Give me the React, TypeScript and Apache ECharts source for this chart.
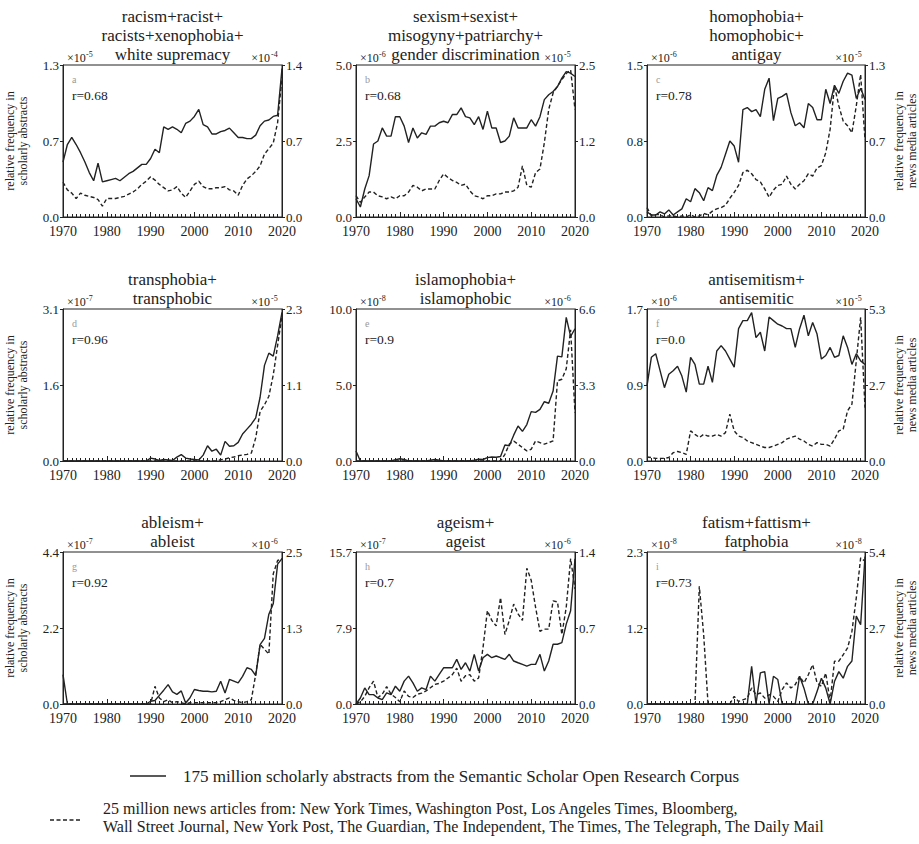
import React, { useEffect, useRef } from "react";
import * as echarts from "echarts";

const YEARS = [
  1970, 1971, 1972, 1973, 1974, 1975, 1976, 1977, 1978, 1979,
  1980, 1981, 1982, 1983, 1984, 1985, 1986, 1987, 1988, 1989,
  1990, 1991, 1992, 1993, 1994, 1995, 1996, 1997, 1998, 1999,
  2000, 2001, 2002, 2003, 2004, 2005, 2006, 2007, 2008, 2009,
  2010, 2011, 2012, 2013, 2014, 2015, 2016, 2017, 2018, 2019,
  2020,
];

const TITLES = [
  "racism+racist+\nracists+xenophobia+\nwhite supremacy",
  "sexism+sexist+\nmisogyny+patriarchy+\ngender discrimination",
  "homophobia+\nhomophobic+\nantigay",
  "transphobia+\ntransphobic",
  "islamophobia+\nislamophobic",
  "antisemitism+\nantisemitic",
  "ableism+\nableist",
  "ageism+\nageist",
  "fatism+fattism+\nfatphobia",
];
const LETTERS = ["a", "b", "c", "d", "e", "f", "g", "h", "i"];
const R_VALUES = ["r=0.68", "r=0.68", "r=0.78", "r=0.96", "r=0.9", "r=0.0", "r=0.92", "r=0.7", "r=0.73"];
const LEFT_MAX = [1.3, 5.0, 1.5, 3.1, 10.0, 1.7, 4.4, 15.7, 2.3];
const RIGHT_MAX = [1.4, 2.5, 1.3, 2.3, 6.6, 5.3, 2.5, 1.4, 5.4];
const LEFT_TICK_LABELS = [
  ["0.0", "0.7", "1.3"], ["0.0", "2.5", "5.0"], ["0.0", "0.8", "1.5"],
  ["0.0", "1.6", "3.1"], ["0.0", "5.0", "10.0"], ["0.0", "0.9", "1.7"],
  ["0.0", "2.2", "4.4"], ["0.0", "7.9", "15.7"], ["0.0", "1.2", "2.3"],
];
const RIGHT_TICK_LABELS = [
  ["0.0", "0.7", "1.4"], ["0.0", "1.2", "2.5"], ["0.0", "0.7", "1.3"],
  ["0.0", "1.1", "2.3"], ["0.0", "3.3", "6.6"], ["0.0", "2.7", "5.3"],
  ["0.0", "1.3", "2.5"], ["0.0", "0.7", "1.4"], ["0.0", "2.7", "5.4"],
];
const LEFT_EXP = ["-5", "-6", "-6", "-7", "-8", "-6", "-7", "-7", "-8"];
const RIGHT_EXP = ["-4", "-5", "-5", "-5", "-6", "-5", "-6", "-6", "-8"];

const scholarA = [
  0.47, 0.62, 0.68, 0.62, 0.55, 0.47, 0.38, 0.31, 0.46, 0.30,
  0.31, 0.32, 0.33, 0.31, 0.34, 0.37, 0.39, 0.42, 0.45, 0.45,
  0.50, 0.58, 0.55, 0.77, 0.75, 0.77, 0.75, 0.72, 0.80, 0.82,
  0.86, 0.92, 0.79, 0.77, 0.71, 0.71, 0.73, 0.74, 0.76, 0.72,
  0.68, 0.68, 0.67, 0.67, 0.70, 0.78, 0.82, 0.83, 0.86, 0.87,
  1.27,
];
const newsA = [
  0.32, 0.25, 0.22, 0.17, 0.22, 0.20, 0.19, 0.18, 0.16, 0.10,
  0.17, 0.17, 0.17, 0.18, 0.19, 0.21, 0.23, 0.26, 0.30, 0.33,
  0.37, 0.34, 0.30, 0.27, 0.24, 0.25, 0.28, 0.22, 0.18, 0.24,
  0.30, 0.33, 0.28, 0.26, 0.26, 0.27, 0.27, 0.28, 0.25, 0.24,
  0.20, 0.29, 0.35, 0.38, 0.42, 0.47, 0.58, 0.63, 0.68, 0.87,
  1.29,
];
const scholarB = [
  0.60, 0.33, 0.92, 1.36, 2.40, 2.50, 2.93, 2.66, 2.66, 3.30,
  3.30, 2.99, 2.45, 2.93, 2.60, 2.77, 2.72, 2.99, 2.99, 3.10,
  3.15, 3.10, 3.37, 3.37, 3.59, 3.30, 3.26, 3.04, 3.30, 2.88,
  3.48, 2.93, 2.93, 2.45, 2.50, 2.66, 3.26, 2.93, 2.93, 2.93,
  3.20, 2.99, 3.30, 3.86, 4.02, 4.13, 4.29, 4.57, 4.78, 4.73,
  4.62,
];
const newsB = [
  0.35, 0.24, 0.33, 0.41, 0.41, 0.35, 0.33, 0.30, 0.33, 0.30,
  0.35, 0.35, 0.41, 0.52, 0.49, 0.43, 0.46, 0.46, 0.46, 0.60,
  0.71, 0.65, 0.60, 0.57, 0.52, 0.54, 0.43, 0.35, 0.33, 0.30,
  0.35, 0.35, 0.38, 0.38, 0.41, 0.41, 0.43, 0.49, 0.84, 0.52,
  0.49, 0.73, 0.79, 1.22, 1.77, 2.04, 2.15, 2.26, 2.36, 2.42,
  1.77,
];
const scholarC = [
  0.05, 0.02, 0.02, 0.05, 0.03, 0.07, 0.02, 0.05, 0.08, 0.18,
  0.15, 0.28, 0.24, 0.16, 0.29, 0.26, 0.41, 0.49, 0.62, 0.75,
  0.70, 0.54, 1.06, 1.08, 1.04, 1.06, 0.99, 1.26, 1.37, 0.95,
  1.17, 1.19, 1.22, 1.03, 0.90, 0.93, 0.88, 1.12, 1.08, 0.96,
  0.96, 1.26, 1.12, 1.30, 1.22, 1.34, 1.42, 1.40, 1.17, 1.27,
  1.16,
];
const newsC = [
  0.08, 0.01, 0.02, 0.02, 0.00, 0.01, 0.01, 0.00, 0.01, 0.00,
  0.02, 0.00, 0.01, 0.03, 0.02, 0.05, 0.07, 0.08, 0.10, 0.16,
  0.21, 0.27, 0.38, 0.40, 0.37, 0.32, 0.30, 0.24, 0.17, 0.23,
  0.27, 0.28, 0.35, 0.28, 0.24, 0.28, 0.31, 0.37, 0.35, 0.42,
  0.44, 0.55, 0.75, 1.12, 0.95, 0.82, 0.78, 0.72, 0.95, 1.22,
  0.66,
];
const scholarD = [
  0.00, 0.00, 0.00, 0.00, 0.00, 0.00, 0.00, 0.00, 0.00, 0.00,
  0.00, 0.00, 0.00, 0.00, 0.00, 0.00, 0.00, 0.00, 0.00, 0.00,
  0.06, 0.04, 0.01, 0.03, 0.02, 0.01, 0.08, 0.13, 0.06, 0.04,
  0.03, 0.02, 0.12, 0.31, 0.20, 0.24, 0.12, 0.40, 0.30, 0.31,
  0.38, 0.55, 0.65, 0.75, 0.88, 1.30, 1.95, 2.20, 2.14, 2.55,
  3.03,
];
const newsD = [
  0.00, 0.00, 0.00, 0.00, 0.00, 0.00, 0.00, 0.00, 0.00, 0.00,
  0.00, 0.00, 0.00, 0.00, 0.00, 0.00, 0.00, 0.00, 0.00, 0.00,
  0.00, 0.00, 0.00, 0.00, 0.00, 0.00, 0.00, 0.00, 0.00, 0.00,
  0.00, 0.00, 0.00, 0.00, 0.00, 0.00, 0.02, 0.03, 0.05, 0.06,
  0.08, 0.09, 0.10, 0.12, 0.35, 0.75, 0.85, 0.98, 1.30, 1.75,
  2.20,
];
const scholarE = [
  0.66, 0.00, 0.00, 0.00, 0.00, 0.00, 0.00, 0.00, 0.00, 0.08,
  0.15, 0.10, 0.00, 0.00, 0.00, 0.00, 0.00, 0.05, 0.10, 0.05,
  0.00, 0.00, 0.00, 0.00, 0.00, 0.00, 0.00, 0.05, 0.12, 0.10,
  0.22, 0.26, 0.25, 0.30, 1.05, 1.00, 1.70, 2.30, 1.95, 2.40,
  3.25, 3.20, 3.40, 3.90, 3.80, 4.60, 6.90, 6.85, 9.45, 8.20,
  8.70,
];
const newsE = [
  0.00, 0.00, 0.00, 0.00, 0.00, 0.00, 0.00, 0.00, 0.00, 0.00,
  0.00, 0.00, 0.00, 0.00, 0.00, 0.00, 0.00, 0.00, 0.00, 0.00,
  0.00, 0.00, 0.00, 0.00, 0.00, 0.00, 0.00, 0.00, 0.00, 0.00,
  0.00, 0.00, 0.00, 0.00, 0.29, 0.73, 0.87, 0.73, 0.58, 0.44,
  0.51, 0.87, 0.80, 0.73, 0.80, 0.87, 3.48, 3.55, 4.00, 5.70,
  2.10,
];
const scholarF = [
  0.84, 1.16, 1.20, 1.01, 0.82, 0.97, 1.01, 1.06, 0.95, 0.77,
  1.16, 1.08, 0.86, 0.86, 1.06, 0.88, 1.23, 1.29, 1.23, 1.14,
  1.05, 1.48, 1.57, 1.57, 1.66, 1.38, 1.44, 1.23, 1.61, 1.57,
  1.53, 1.51, 1.48, 1.48, 1.27, 1.48, 1.63, 1.40, 1.55, 1.42,
  1.14, 1.18, 1.27, 1.16, 1.18, 1.40, 1.27, 1.08, 1.20, 1.12,
  1.08,
];
const newsF = [
  0.14, 0.12, 0.09, 0.09, 0.09, 0.12, 0.29, 0.33, 0.29, 0.23,
  1.05, 0.93, 0.82, 0.93, 0.87, 0.87, 0.93, 0.87, 0.99, 1.63,
  1.05, 0.87, 0.82, 0.70, 0.64, 0.58, 0.52, 0.47, 0.47, 0.52,
  0.58, 0.64, 0.76, 0.82, 0.87, 0.76, 0.70, 0.58, 0.52, 0.64,
  0.58, 0.58, 0.52, 0.76, 1.05, 1.11, 1.75, 1.98, 3.49, 5.01,
  1.86,
];
const scholarG = [
  0.85, 0.00, 0.00, 0.00, 0.00, 0.00, 0.00, 0.00, 0.00, 0.00,
  0.00, 0.00, 0.00, 0.00, 0.00, 0.00, 0.00, 0.00, 0.00, 0.00,
  0.08, 0.10, 0.25, 0.40, 0.56, 0.35, 0.28, 0.38, 0.03, 0.18,
  0.42, 0.39, 0.37, 0.37, 0.35, 0.37, 0.66, 0.32, 0.71, 0.66,
  0.61, 0.80, 1.05, 1.00, 0.82, 1.72, 1.90, 2.60, 2.90, 4.05,
  4.21,
];
const newsG = [
  0.00, 0.00, 0.00, 0.00, 0.00, 0.00, 0.00, 0.00, 0.00, 0.00,
  0.00, 0.00, 0.00, 0.00, 0.00, 0.00, 0.00, 0.00, 0.00, 0.00,
  0.00, 0.29, 0.10, 0.04, 0.07, 0.02, 0.04, 0.02, 0.00, 0.02,
  0.02, 0.02, 0.02, 0.02, 0.02, 0.02, 0.04, 0.07, 0.10, 0.06,
  0.04, 0.02, 0.04, 0.07, 0.49, 0.98, 0.90, 0.82, 2.14, 2.36,
  2.39,
];
const scholarH = [
  0.00, 0.62, 1.66, 0.97, 0.97, 0.62, 0.45, 1.14, 0.97, 1.84,
  1.32, 2.36, 2.88, 2.18, 1.32, 1.66, 1.49, 2.88, 2.36, 3.05,
  3.74, 3.74, 3.74, 4.61, 3.57, 4.26, 3.40, 5.13, 3.40, 4.78,
  5.13, 4.78, 4.96, 4.78, 4.61, 5.13, 4.44, 4.26, 4.09, 3.92,
  4.09, 4.09, 5.13, 3.40, 4.44, 6.17, 6.17, 6.34, 8.25, 9.63,
  15.0,
];
const newsH = [
  0.00, 0.02, 0.07, 0.15, 0.21, 0.06, 0.09, 0.16, 0.09, 0.06,
  0.02, 0.12, 0.07, 0.06, 0.09, 0.10, 0.12, 0.15, 0.18, 0.19,
  0.21, 0.24, 0.27, 0.33, 0.21, 0.26, 0.27, 0.21, 0.24, 0.52,
  0.86, 0.77, 0.72, 0.98, 0.64, 0.77, 0.92, 0.83, 0.77, 1.25,
  1.14, 0.89, 0.67, 0.69, 0.69, 0.95, 0.94, 0.64, 0.89, 1.34,
  1.06,
];
const scholarI = [
  0.00, 0.00, 0.00, 0.00, 0.00, 0.00, 0.00, 0.00, 0.00, 0.00,
  0.00, 0.00, 0.00, 0.00, 0.00, 0.00, 0.00, 0.00, 0.00, 0.00,
  0.00, 0.00, 0.00, 0.00, 0.57, 0.00, 0.47, 0.49, 0.00, 0.42,
  0.37, 0.00, 0.00, 0.00, 0.00, 0.42, 0.24, 0.00, 0.00, 0.19,
  0.39, 0.24, 0.00, 0.34, 0.49, 0.39, 0.57, 0.65, 1.33, 1.20,
  2.23,
];
const newsI = [
  0.00, 0.00, 0.00, 0.00, 0.00, 0.00, 0.00, 0.00, 0.00, 0.00,
  0.00, 0.00, 4.18, 2.46, 0.00, 0.00, 0.00, 0.00, 0.00, 0.00,
  0.27, 0.09, 0.15, 0.21, 0.57, 0.33, 0.39, 0.21, 0.33, 0.27,
  0.09, 0.51, 0.75, 0.57, 0.69, 0.98, 0.75, 1.04, 1.40, 0.75,
  0.63, 1.10, 0.09, 1.52, 1.52, 1.75, 1.99, 2.58, 3.77, 5.19,
  5.07,
];

const SCHOLAR = [scholarA, scholarB, scholarC, scholarD, scholarE, scholarF, scholarG, scholarH, scholarI];
const NEWS = [newsA, newsB, newsC, newsD, newsE, newsF, newsG, newsH, newsI];

const LEGEND_SCHOLAR = "175 million scholarly abstracts from the Semantic Scholar Open Research Corpus";
const LEGEND_NEWS_1 = "25 million news articles from: New York Times, Washington Post, Los Angeles Times, Bloomberg,";
const LEGEND_NEWS_2 = "Wall Street Journal, New York Post, The Guardian, The Independent, The Times, The Telegraph, The Daily Mail";
const Y_NAME_LEFT = "relative frequency in\nscholarly abstracts";
const Y_NAME_RIGHT = "relative frequency in\nnews media articles";

const FONT = "'Liberation Serif', 'Times New Roman', serif";
const INK = "#222";
const COL_LEFT = [63, 356, 647];
const ROW_TOP = [65, 309, 552];
const GW = 219;
const GH = 152;

export default function App() {
  const ref = useRef<HTMLDivElement>(null);

  useEffect(() => {
    if (!ref.current) return;
    const chart = echarts.init(ref.current, null, { renderer: "svg" });

    const grid: any[] = [];
    const xAxis: any[] = [];
    const yAxis: any[] = [];
    const series: any[] = [];
    const graphic: any[] = [];

    for (let i = 0; i < 9; i++) {
      const col = i % 3;
      const row = Math.floor(i / 3);
      const gl = COL_LEFT[col];
      const gt = ROW_TOP[row];
      const gr = gl + GW;
      grid.push({
        left: gl, top: gt, width: GW, height: GH,
        show: true, borderColor: INK, borderWidth: 1, backgroundColor: "transparent",
      });
      xAxis.push({
        type: "value", gridIndex: i, min: 1970, max: 2020, interval: 10,
        axisLine: { show: true, lineStyle: { color: INK, width: 1 } },
        axisTick: { show: true, inside: true, length: 5, lineStyle: { color: INK } },
        minorTick: { show: true, splitNumber: 10, length: 3, lineStyle: { color: INK } },
        splitLine: { show: false },
        axisLabel: {
          formatter: (v: number) => String(v), fontFamily: FONT, fontSize: 14, color: INK, margin: 7,
        },
      });
      const lmax = LEFT_MAX[i];
      const rmax = RIGHT_MAX[i];
      const ll = LEFT_TICK_LABELS[i];
      const rl = RIGHT_TICK_LABELS[i];
      const yBase = (max: number, labels: string[], pos: string) => ({
        type: "value", gridIndex: i, position: pos, min: 0, max, interval: max / 2,
        axisLine: { show: true, lineStyle: { color: INK, width: 1 } },
        axisTick: { show: true, inside: false, length: 3, lineStyle: { color: INK } },
        splitLine: { show: false },
        axisLabel: {
          fontFamily: FONT, fontSize: 13, color: INK, margin: 4,
          formatter: (v: number) => (v === 0 ? labels[0] : Math.abs(v - max) < 1e-9 ? labels[2] : labels[1]),
        },
      });
      const left: any = yBase(lmax, ll, "left");
      const right: any = yBase(rmax, rl, "right");
      if (col === 0) {
        Object.assign(left, {
          name: Y_NAME_LEFT, nameLocation: "middle", nameRotate: 90, nameGap: 34,
          nameTextStyle: { fontFamily: FONT, fontSize: 12, color: INK, lineHeight: 13 },
        });
      }
      if (col === 2) {
        Object.assign(right, {
          name: Y_NAME_RIGHT, nameLocation: "middle", nameRotate: 90, nameGap: 27,
          nameTextStyle: { fontFamily: FONT, fontSize: 12, color: INK, lineHeight: 13 },
        });
      }
      yAxis.push(left, right);

      series.push({
        type: "line", xAxisIndex: i, yAxisIndex: 2 * i,
        data: YEARS.map((y, k) => [y, SCHOLAR[i][k]]),
        showSymbol: false, symbol: "none",
        lineStyle: { color: INK, width: 1.4 },
      });
      series.push({
        type: "line", xAxisIndex: i, yAxisIndex: 2 * i + 1,
        data: YEARS.map((y, k) => [y, NEWS[i][k]]),
        showSymbol: false, symbol: "none",
        lineStyle: { color: INK, width: 1.4, type: [4, 2.5] },
      });

      graphic.push({
        type: "text", x: gl + GW / 2, y: gt - 1,
        style: {
          text: TITLES[i], fontFamily: FONT, fontSize: 17, fill: INK,
          textAlign: "center", textVerticalAlign: "bottom", lineHeight: 19,
        },
      });
      graphic.push({
        type: "text", x: gl + 9, y: gt + 14,
        style: { text: LETTERS[i], fontFamily: FONT, fontSize: 10, fill: "#999", textVerticalAlign: "middle" },
      });
      graphic.push({
        type: "text", x: gl + 9, y: gt + 30,
        style: { text: R_VALUES[i], fontFamily: FONT, fontSize: 13.5, fill: INK, textVerticalAlign: "middle" },
      });
      graphic.push({
        type: "text", x: gl + 4, y: gt - 1,
        style: { text: "×10", fontFamily: FONT, fontSize: 12, fill: INK, textVerticalAlign: "bottom" },
      });
      graphic.push({
        type: "text", x: gl + 23, y: gt - 7,
        style: { text: LEFT_EXP[i], fontFamily: FONT, fontSize: 8, fill: INK, textVerticalAlign: "bottom" },
      });
      graphic.push({
        type: "text", x: gr - 12, y: gt - 1,
        style: { text: "×10", fontFamily: FONT, fontSize: 12, fill: INK, textAlign: "right", textVerticalAlign: "bottom" },
      });
      graphic.push({
        type: "text", x: gr - 11, y: gt - 7,
        style: { text: RIGHT_EXP[i], fontFamily: FONT, fontSize: 8, fill: INK, textAlign: "left", textVerticalAlign: "bottom" },
      });
    }

    graphic.push({
      type: "line", shape: { x1: 130, y1: 776, x2: 166, y2: 776 },
      style: { stroke: INK, lineWidth: 1.5 },
    });
    graphic.push({
      type: "text", x: 183, y: 776,
      style: { text: LEGEND_SCHOLAR, fontFamily: FONT, fontSize: 17, fill: INK, textVerticalAlign: "middle" },
    });
    graphic.push({
      type: "line", shape: { x1: 50, y1: 820, x2: 82, y2: 820 },
      style: { stroke: INK, lineWidth: 1.5, lineDash: [4, 2.5] },
    });
    graphic.push({
      type: "text", x: 103, y: 808,
      style: { text: LEGEND_NEWS_1, fontFamily: FONT, fontSize: 16, fill: INK, textVerticalAlign: "middle" },
    });
    graphic.push({
      type: "text", x: 103, y: 826,
      style: { text: LEGEND_NEWS_2, fontFamily: FONT, fontSize: 16, fill: INK, textVerticalAlign: "middle" },
    });

    chart.setOption({
      animation: false,
      backgroundColor: "#fff",
      textStyle: { fontFamily: FONT },
      grid, xAxis, yAxis, series, graphic,
    });

    return () => chart.dispose();
  }, []);

  return (
    <div
      ref={ref}
      style={{ position: "absolute", left: 0, top: 0, width: 919, height: 844 }}
    />
  );
}
